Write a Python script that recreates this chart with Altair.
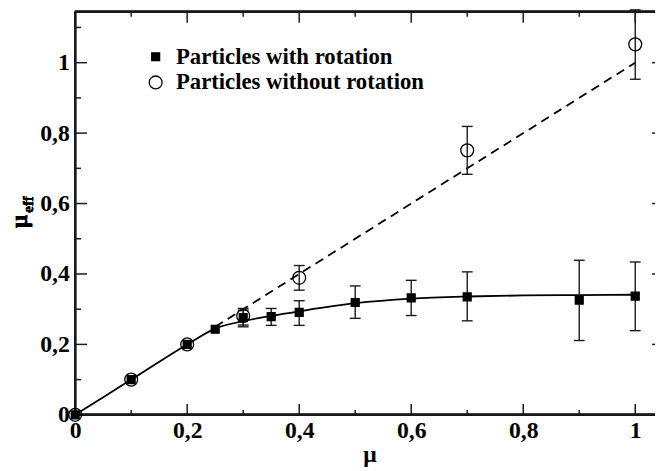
import altair as alt
import pandas as pd

# ---- data ----
rot_x = [0.0, 0.1, 0.2, 0.25, 0.3, 0.35, 0.4, 0.5, 0.6, 0.7, 0.9, 1.0]
rot_y = [0.0, 0.1, 0.2, 0.243, 0.276, 0.279, 0.291, 0.319, 0.332, 0.335, 0.326, 0.337]
rot_err_x = [0.3, 0.35, 0.4, 0.5, 0.6, 0.7, 0.9, 1.0]
rot_lo = [0.255, 0.254, 0.254, 0.274, 0.282, 0.267, 0.211, 0.239]
rot_hi = [0.297, 0.302, 0.324, 0.366, 0.382, 0.406, 0.439, 0.434]

norot_x = [0.0, 0.1, 0.2, 0.3, 0.4, 0.7, 1.0]
norot_y = [0.0, 0.1, 0.2, 0.281, 0.389, 0.751, 1.052]
norot_err_x = [0.3, 0.4, 0.7, 1.0]
norot_lo = [0.250, 0.354, 0.683, 0.953]
norot_hi = [0.302, 0.424, 0.819, 1.150]

# fitted curve (solid) and y = x guide (dashed)
curve_x = [0.0, 0.1, 0.2, 0.25, 0.3, 0.35, 0.4, 0.5, 0.6, 0.7, 0.8, 0.9, 1.0]
curve_y = [0.0, 0.1, 0.2, 0.245, 0.266, 0.281, 0.294, 0.317, 0.330, 0.336, 0.339, 0.340, 0.341]
dash_x = [0.25, 1.0]
dash_y = [0.25, 1.0]

series_names = ["Particles with rotation", "Particles without rotation"]

x_major = [0.0, 0.2, 0.4, 0.6, 0.8, 1.0]
x_minor = [0.1, 0.3, 0.5, 0.7, 0.9]
y_major = [0.0, 0.2, 0.4, 0.6, 0.8, 1.0]
y_minor = [0.1, 0.3, 0.5, 0.7, 0.9, 1.1]

# ---- tables ----
pts = pd.concat([
    pd.DataFrame({"x": rot_x, "y": rot_y, "s": series_names[0]}),
    pd.DataFrame({"x": norot_x, "y": norot_y, "s": series_names[1]}),
])
errs = pd.concat([
    pd.DataFrame({"x": rot_err_x, "lo": rot_lo, "hi": rot_hi}),
    pd.DataFrame({"x": norot_err_x, "lo": norot_lo, "hi": norot_hi}),
])
curve = pd.DataFrame({"x": curve_x, "y": curve_y})
dash = pd.DataFrame({"x": dash_x, "y": dash_y})
xmaj = pd.DataFrame({"v": x_major})
xmin = pd.DataFrame({"v": x_minor})
ymaj = pd.DataFrame({"v": y_major})
ymin = pd.DataFrame({"v": y_minor})

W, H = 587, 408
XMAX = W / 567.0
YMAX = H / 356.5
FONT = "Liberation Serif"
INK = "#1a1a1a"

xs = alt.Scale(domain=[0, XMAX], nice=False, zero=False)
ys = alt.Scale(domain=[0, YMAX], nice=False, zero=False)
label_expr = "replace(format(datum.value, '.1~f'), '.', ',')"

x_axis = alt.Axis(values=x_major, labelExpr=label_expr, ticks=False, tickSize=0,
                  domain=False, grid=False, labelFlush=False, labelOverlap=False,
                  labelFont=FONT, labelFontSize=24, labelFontWeight="bold", labelColor="black",
                  labelPadding=4, title="μ", titlePadding=0,
                  titleFont=FONT, titleFontSize=24, titleFontWeight="bold",
                  titleColor="black", titleX=298)
y_axis = alt.Axis(values=y_major, labelExpr=label_expr, ticks=False, tickSize=0,
                  domain=False, grid=False, labelFlush=False, labelOverlap=False,
                  labelFont=FONT, labelFontSize=24, labelFontWeight="bold", labelColor="black",
                  labelPadding=6, title="")


def X(field):
    return alt.X(field, scale=xs, axis=x_axis)


def Y(field):
    return alt.Y(field, scale=ys, axis=y_axis)


leg = alt.Legend(title=None, orient="none", legendX=70, legendY=34,
                 labelFont=FONT, labelFontSize=23, labelFontWeight="bold",
                 labelColor="black", labelLimit=500,
                 labelOffset=9, padding=0, rowPadding=2,
                 symbolStrokeColor="black", symbolStrokeWidth=1.3)

points = alt.Chart(pts).mark_point(strokeWidth=1.3, opacity=1).encode(
    x=X("x:Q"),
    y=Y("y:Q"),
    shape=alt.Shape("s:N", scale=alt.Scale(domain=series_names, range=["square", "circle"]), legend=leg),
    fill=alt.Fill("s:N", scale=alt.Scale(domain=series_names, range=["black", "transparent"]), legend=leg),
    stroke=alt.Stroke("s:N", scale=alt.Scale(domain=series_names, range=["black", "black"]), legend=leg),
    size=alt.Size("s:N", scale=alt.Scale(domain=series_names, range=[64, 170]), legend=leg),
)

err_rule = alt.Chart(errs).mark_rule(color=INK, strokeWidth=1.4).encode(
    x=X("x:Q"), y=Y("lo:Q"), y2="hi:Q",
)
cap_lo = alt.Chart(errs).mark_tick(orient="horizontal", size=11, thickness=1.4, color=INK, opacity=1).encode(
    x=X("x:Q"), y=Y("lo:Q"),
)
cap_hi = alt.Chart(errs).mark_tick(orient="horizontal", size=11, thickness=1.4, color=INK, opacity=1).encode(
    x=X("x:Q"), y=Y("hi:Q"),
)

curve_line = alt.Chart(curve).mark_line(color="black", strokeWidth=1.8, interpolate="monotone").encode(
    x=X("x:Q"), y=Y("y:Q"),
)
dash_line = alt.Chart(dash).mark_line(color="black", strokeWidth=1.8, strokeDash=[9, 6]).encode(
    x=X("x:Q"), y=Y("y:Q"),
)

# frame (left, top, bottom) and inward ticks
frame_left = alt.Chart(xmaj).mark_rule(color=INK, strokeWidth=2).encode(
    x=alt.value(0), y=alt.value(0), y2=alt.value(H))
frame_top = alt.Chart(xmaj).mark_rule(color=INK, strokeWidth=2).encode(
    x=alt.value(0), x2=alt.value(W), y=alt.value(0))
frame_bottom = alt.Chart(xmaj).mark_rule(color=INK, strokeWidth=2).encode(
    x=alt.value(0), x2=alt.value(W), y=alt.value(H))


def vtick(df, y0, y1):
    return alt.Chart(df).mark_rule(color=INK, strokeWidth=1.5).encode(
        x=X("v:Q"), y=alt.value(y0), y2=alt.value(y1))


def htick(df, x0, x1):
    return alt.Chart(df).mark_rule(color=INK, strokeWidth=1.5).encode(
        y=Y("v:Q"), x=alt.value(x0), x2=alt.value(x1))


ticks = [
    vtick(xmaj, H, H - 11), vtick(xmin, H, H - 5),
    vtick(xmaj, 0, 11), vtick(xmin, 0, 5),
    htick(ymaj, 0, 12), htick(ymin, 0, 6),
    htick(ymaj, W - 3, W),
]

ytitle_mu = alt.Chart(xmaj).mark_text(text="μ", font=FONT, fontSize=24, fontWeight="bold",
                                       angle=270, align="center", baseline="alphabetic",
                                       color="black").encode(x=alt.value(-49), y=alt.value(212))
ytitle_eff = alt.Chart(xmaj).mark_text(text="eff", font=FONT, fontSize=15, fontWeight="bold",
                                        angle=270, align="center", baseline="alphabetic",
                                        color="black").encode(x=alt.value(-43), y=alt.value(195))

chart = alt.layer(
    frame_left, frame_top, frame_bottom, *ticks,
    dash_line, curve_line, err_rule, cap_lo, cap_hi, points,
    ytitle_mu, ytitle_eff,
).properties(
    width=W, height=H,
    background="white",
    autosize=alt.AutoSizeParams(type="none"),
    padding={"left": 68, "top": 1, "right": 0, "bottom": 54},
).configure_view(stroke=None).configure_axis(
    labelFont=FONT, labelFontSize=24, labelFontWeight="bold", labelColor="black",
).configure_legend(
    labelFont=FONT, labelFontSize=23, labelFontWeight="bold", labelColor="black",
)

chart.save("out.html", embed_options={"renderer": "svg", "actions": False})
